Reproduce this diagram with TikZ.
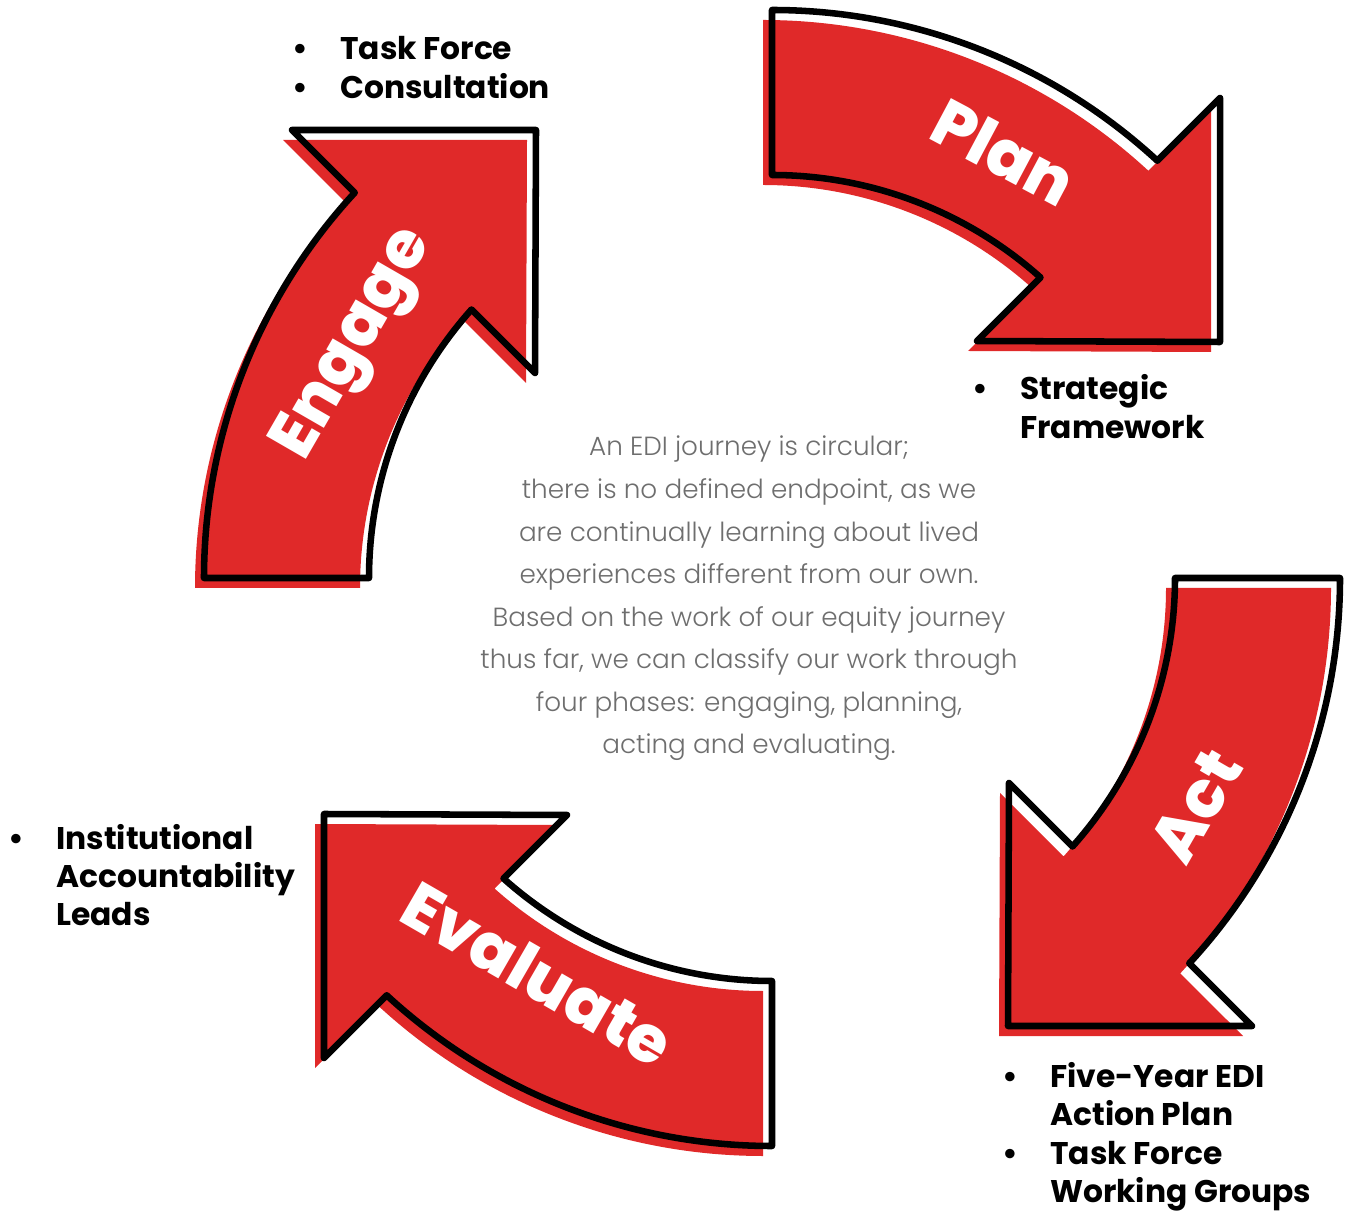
\documentclass[tikz,border=0pt]{standalone}
\usepackage{fontspec}
\setmainfont{Poppins}
\newfontfamily\lightfont{Poppins Light}
\newfontfamily\heavyfont{Poppins ExtraBold}
\definecolor{arrowred}{RGB}{224,41,41}
\definecolor{desctext}{RGB}{110,110,110}
\begin{document}
\begin{tikzpicture}[x=0.75pt,y=0.75pt,
  redfill/.style={fill=arrowred},
  arrowline/.style={draw=black,line width=4.9pt,line join=round,line cap=round},
  phaselabel/.style={text=white,font=\heavyfont\fontsize{49}{49}\selectfont,inner sep=0},
  bullets/.style={font=\fontsize{23.5}{28.8}\selectfont\bfseries,inner sep=0,anchor=base west},
  desc/.style={font=\lightfont\fontsize{19.7}{19.7}\selectfont,text=desctext,inner sep=0,anchor=base}]
\useasboundingbox (0,0) rectangle (1345,1211);
\def\arrowshape{(0,568) arc[start angle=90,end angle=47.28,radius=568] -- (448,480) -- (448,236) -- (205,237) -- (48.22:403) arc[start angle=48.22,end angle=90,radius=403] -- cycle}
\foreach \r in {0,-90,180,90}{
  \fill[redfill,shift={(763,623)},rotate=\r] \arrowshape;
  \draw[arrowline,shift={(772,633)},rotate=\r] \arrowshape;
}
\node[phaselabel,rotate=-28] (plan) at (1004,1059) {Plan};
\node[phaselabel,rotate=60] (act) at (1196,405) {Act};
\node[phaselabel,rotate=-30] (evaluate) at (538,237) {Evaluate};
\node[phaselabel,rotate=60] (engage) at (356,866) {Engage};
\node[bullets] (engagelist) at (292,1151) {\begin{tabular}[t]{@{}p{36pt}@{}l@{}}\textbullet&Task Force\\ \textbullet&Consultation\end{tabular}};
\node[bullets] (planlist) at (972,811) {\begin{tabular}[t]{@{}p{36pt}@{}l@{}}\textbullet&Strategic\\ &Framework\end{tabular}};
\node[bullets] (evallist) at (8,362) {\begin{tabular}[t]{@{}p{36pt}@{}l@{}}\textbullet&Institutional\\ &Accountability\\ &Leads\end{tabular}};
\node[bullets] (actlist) at (1002,123.5) {\begin{tabular}[t]{@{}p{36pt}@{}l@{}}\textbullet&Five-Year EDI\\ &Action Plan\\ \textbullet&Task Force\\ &Working Groups\end{tabular}};
\foreach \t [count=\i] in {{An EDI journey is circular;},{there is no defined endpoint, as we},{are continually learning about lived},{experiences different from our own.},{Based on the work of our equity journey},{thus far, we can classify our work through},{four phases: engaging, planning,},{acting and evaluating.}}{
  \node[desc] (d\i) at (749,{755-42.57*(\i-1)}) {\t};
}
\end{tikzpicture}
\end{document}
